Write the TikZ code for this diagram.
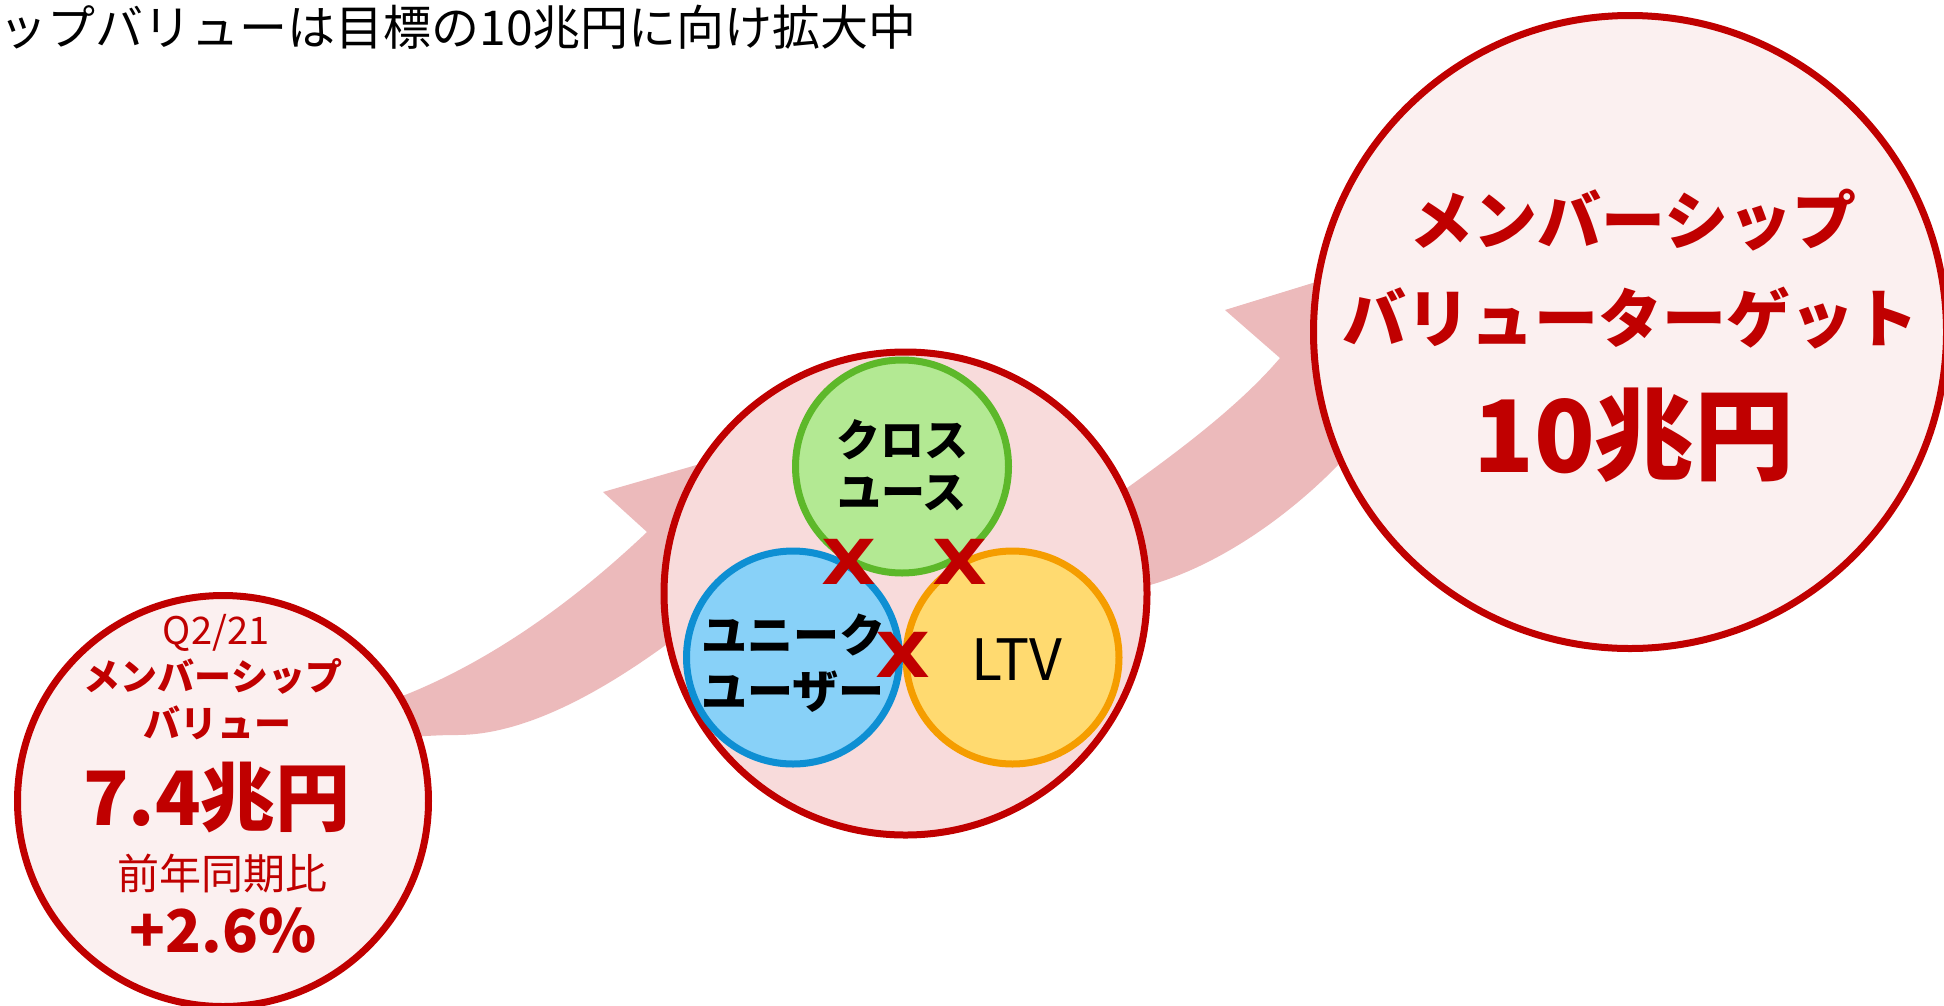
\documentclass[tikz,border=0pt]{standalone}
\usepackage{fontspec}
\setmainfont{Noto Sans CJK JP}
\newfontfamily\crossfont{DejaVu Sans}
\definecolor{myred}{HTML}{C00000}
\definecolor{paleP}{HTML}{FBF0F0}
\definecolor{midP}{HTML}{F8DBDB}
\definecolor{arrowP}{HTML}{ECBABB}
\definecolor{gFill}{HTML}{B3E993}
\definecolor{gLine}{HTML}{5DB82A}
\definecolor{bFill}{HTML}{88D1F8}
\definecolor{bLine}{HTML}{0E8FD3}
\definecolor{oFill}{HTML}{FFDA70}
\definecolor{oLine}{HTML}{F59D00}
\tikzset{
  bigcirc/.style={circle, draw=myred, line width=7pt, inner sep=0pt, outer sep=0pt},
  smallcirc/.style={circle, line width=7pt, minimum size=213pt, inner sep=0pt, outer sep=0pt},
  arrowshape/.style={fill=arrowP, draw=none},
  redtxt/.style={text=myred, inner sep=0pt},
  blktxt/.style={text=black, inner sep=0pt},
  crossmark/.style={text=myred, inner sep=0pt, xscale=1.15, font=\crossfont\fontsize{62}{62}\selectfont\bfseries},
}
\begin{document}
\begin{tikzpicture}[x=1pt, y=-1pt]
\useasboundingbox (0,0) rectangle (1944,1005);
\clip (0,0) rectangle (1944,1005);
\fill[white] (0,0) rectangle (1944,1005);
% arrows (behind)
\fill[arrowshape] (330,712) -- (405,695) .. controls (485,663) and (567,608) .. (647,532)
  -- (603,492) -- (790,438) -- (790,580) -- (700,620) -- (663,647)
  .. controls (610,685) and (530,735) .. (457,735)
  .. controls (420,735) and (380,740) .. (330,745) -- cycle;
\fill[arrowshape] (1080,525) -- (1127,488) .. controls (1180,450) and (1240,405) .. (1280,358)
  -- (1225,310) -- (1420,250) -- (1430,400) -- (1370,435) -- (1340,463)
  .. controls (1290,515) and (1220,565) .. (1150,585)
  -- (1090,600) -- cycle;
% big circles
\node[bigcirc, fill=paleP, minimum size=411pt] (L) at (223,801) {};
\node[bigcirc, fill=midP, minimum size=483pt] (M) at (905.5,593.5) {};
\node[bigcirc, fill=paleP, minimum size=633pt] (R) at (1630,332) {};
% inner circles
\node[smallcirc, fill=gFill, draw=gLine] (G) at (902,466.5) {};
\node[smallcirc, fill=oFill, draw=oLine] (O) at (1012.5,657.5) {};
\node[smallcirc, fill=bFill, draw=bLine] (B) at (793,657.5) {};
% title
\node[blktxt, anchor=east, font=\fontsize{48}{50}\selectfont] (title) at (917,27) {ップバリューは目標の10兆円に向け拡大中};
% left circle texts
\node[redtxt, font=\fontsize{38}{40}\selectfont] (lq) at (216,633) {Q2/21};
\node[redtxt, font=\fontsize{37}{40}\selectfont\bfseries] (lm) at (213,676) {メンバーシップ};
\node[redtxt, font=\fontsize{37}{40}\selectfont\bfseries] (lv) at (217,723) {バリュー};
\node[redtxt, font=\fontsize{75}{77}\selectfont\bfseries] (lbig) at (217,798) {7.4兆円};
\node[redtxt, font=\fontsize{42}{44}\selectfont] (lyoy) at (222,874) {前年同期比};
\node[redtxt, font=\fontsize{59}{61}\selectfont\bfseries] (lpct) at (223,931) {+2.6\%};
% right circle texts
\node[redtxt, font=\fontsize{64}{66}\selectfont\bfseries] (rm) at (1633,220) {メンバーシップ};
\node[redtxt, font=\fontsize{64}{66}\selectfont\bfseries] (rv) at (1630,318) {バリューターゲット};
\node[redtxt, font=\fontsize{100}{100}\selectfont\bfseries] (rbig) at (1634,435) {10兆円};
% inner texts
\node[blktxt, font=\fontsize{44}{46}\selectfont\bfseries] (g1) at (902,440) {クロス};
\node[blktxt, font=\fontsize{44}{46}\selectfont\bfseries] (g2) at (902,493) {ユース};
\node[blktxt, font=\fontsize{46}{48}\selectfont\bfseries] (b1) at (793,635) {ユニーク};
\node[blktxt, font=\fontsize{46}{48}\selectfont\bfseries] (b2) at (793,692) {ユーザー};
\node[blktxt, font=\fontsize{57}{59}\selectfont] (o1) at (1017,660) {LTV};
% cross marks
\node[crossmark] (x1) at (849,562) {X};
\node[crossmark] (x2) at (960,562) {X};
\node[crossmark] (x3) at (903,655) {X};
\end{tikzpicture}
\end{document}
